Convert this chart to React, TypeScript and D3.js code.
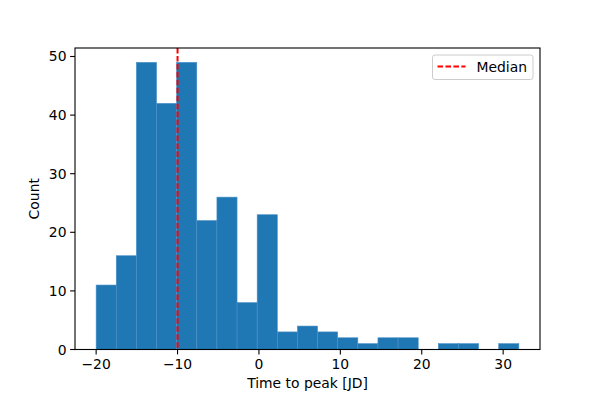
import React from "react";
import * as d3 from "d3";

const counts = [11, 16, 49, 42, 49, 22, 26, 8, 23, 3, 4, 3, 2, 1, 2, 2, 0, 1, 1, 0, 1];
const binMin = -20.0;
const binMax = 31.93;
const medianValue = -10;
const xTicks = [-20, -10, 0, 10, 20, 30];
const yTicks = [0, 10, 20, 30, 40, 50];

const W = 600, H = 400;
const L = 75, R = 540, T = 48, B = 349.5;
const font = "DejaVu Sans, sans-serif";

export default function App() {
  const n = counts.length;
  const bw = (binMax - binMin) / n;
  const edges = d3.range(n + 1).map((i) => binMin + i * bw);
  const span = binMax - binMin;
  const x = d3.scaleLinear().domain([binMin - 0.05 * span, binMax + 0.05 * span]).range([L, R]);
  const yMax = (d3.max(counts) as number) * 1.05;
  const y = d3.scaleLinear().domain([0, yMax]).range([B, T]);

  return (
    <svg width={W} height={H} style={{ position: "absolute", left: 0, top: 0, background: "#fff" }}>
      <rect x={0} y={0} width={W} height={H} fill="#fff" />
      {counts.map((c, i) =>
        c > 0 ? (
          <rect
            key={i}
            x={x(edges[i])}
            y={y(c)}
            width={x(edges[i + 1]) - x(edges[i])}
            height={y(0) - y(c)}
            fill="#1f77b4"
            stroke="#4a90c8"
            strokeWidth={0.6}
          />
        ) : null
      )}
      <line
        x1={x(medianValue)}
        x2={x(medianValue)}
        y1={T}
        y2={B}
        stroke="#ff0000"
        strokeWidth={2}
        strokeDasharray="5.55,2.4"
      />
      <rect x={L} y={T} width={R - L} height={B - T} fill="none" stroke="#000" strokeWidth={1.1} />
      {xTicks.map((t) => (
        <g key={t}>
          <line x1={x(t)} x2={x(t)} y1={B} y2={B + 4.9} stroke="#000" strokeWidth={1.1} />
          <text x={x(t)} y={B + 19} textAnchor="middle" fontFamily={font} fontSize={13.9} fill="#000">
            {t < 0 ? "\u2212" + Math.abs(t) : String(t)}
          </text>
        </g>
      ))}
      {yTicks.map((t) => (
        <g key={t}>
          <line x1={L - 4.9} x2={L} y1={y(t)} y2={y(t)} stroke="#000" strokeWidth={1.1} />
          <text x={L - 8.5} y={y(t) + 5} textAnchor="end" fontFamily={font} fontSize={13.9} fill="#000">
            {t}
          </text>
        </g>
      ))}
      <text x={(L + R) / 2} y={388} textAnchor="middle" fontFamily={font} fontSize={13.9} fill="#000">
        Time to peak [JD]
      </text>
      <text
        transform={`translate(39, ${(T + B) / 2}) rotate(-90)`}
        textAnchor="middle"
        fontFamily={font}
        fontSize={13.9}
        fill="#000"
      >
        Count
      </text>
      <g>
        <rect x={432.5} y={55} width={100.5} height={24.5} rx={2.5} fill="#fff" fillOpacity={0.8} stroke="#cccccc" strokeWidth={1} />
        <line x1={437.5} x2={465.5} y1={66.5} y2={66.5} stroke="#ff0000" strokeWidth={2} strokeDasharray="5.55,2.4" />
        <text x={476.5} y={71.5} fontFamily={font} fontSize={13.9} fill="#000">
          Median
        </text>
      </g>
    </svg>
  );
}
